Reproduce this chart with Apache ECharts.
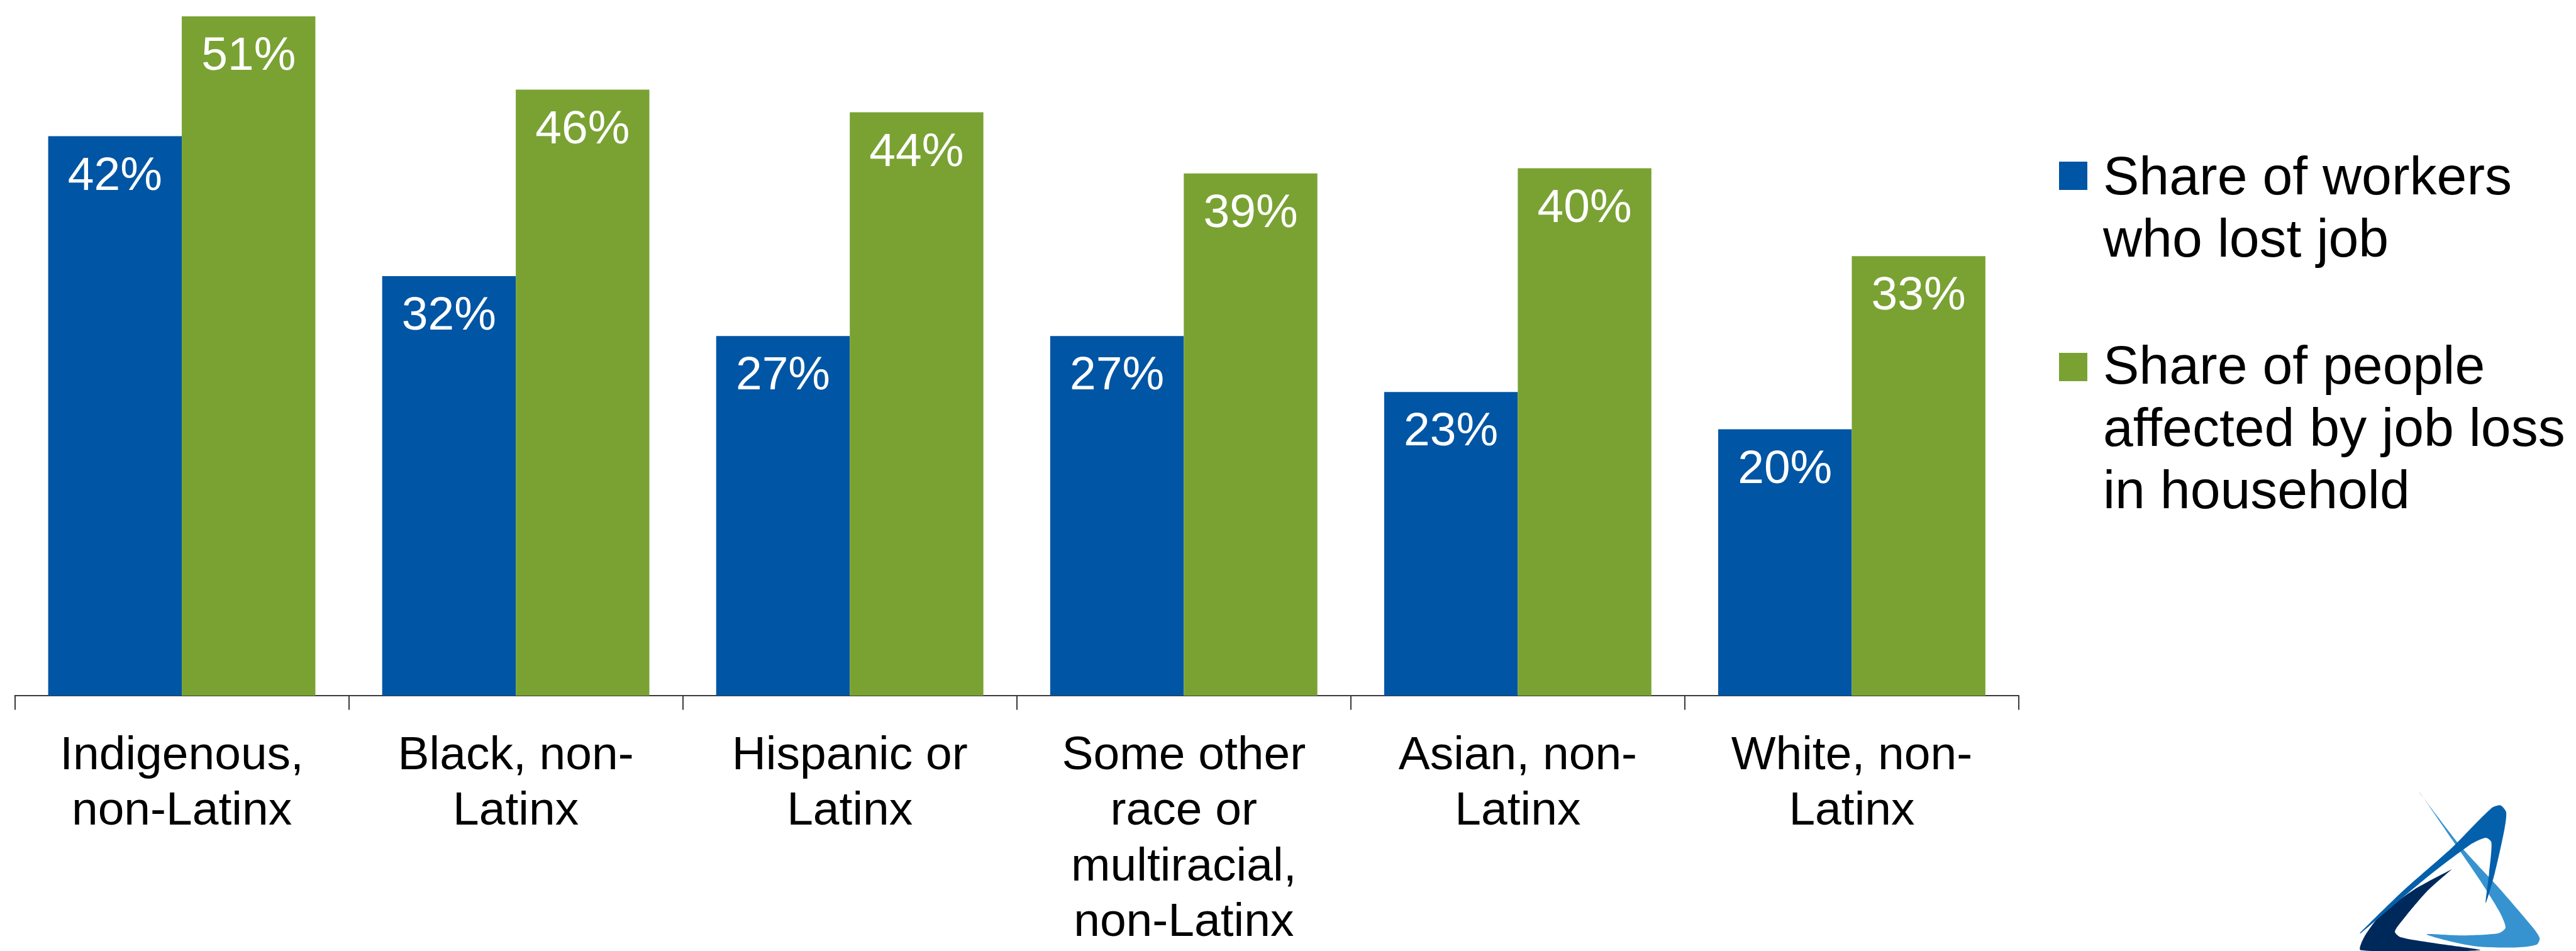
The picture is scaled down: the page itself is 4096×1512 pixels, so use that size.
<!DOCTYPE html>
<html>
<head>
<meta charset="utf-8">
<script src="https://cdn.jsdelivr.net/npm/echarts@6/dist/echarts.min.js"></script>
<style>
html,body{margin:0;padding:0;background:#fff;}
#chart{width:4096px;height:1512px;}
</style>
</head>
<body>
<div id="chart"></div>
<script>
// ---- data ----
var categories = [
  'Indigenous,\nnon-Latinx',
  'Black, non-\nLatinx',
  'Hispanic or\nLatinx',
  'Some other\nrace or\nmultiracial,\nnon-Latinx',
  'Asian, non-\nLatinx',
  'White, non-\nLatinx'
];
var seriesNames = [
  'Share of workers\nwho lost job',
  'Share of people\naffected by job loss\nin household'
];
var workersLostJob = [42, 31.5, 27, 27, 22.8, 20];
var peopleAffected = [51, 45.5, 43.8, 39.2, 39.6, 33];

var S = 0.903;
var FONT = '"Liberation Sans", Arial, sans-serif';
var BLUE = '#0055A4';
var GREEN = '#79A233';

var chart = echarts.init(document.getElementById('chart'), null, {renderer: 'canvas'});

function valueLabel() {
  return {
    show: true,
    position: 'insideTop',
    distance: 27,
    color: '#ffffff',
    fontFamily: FONT,
    fontSize: 75,
    lineHeight: 75,
    formatter: function (p) { return Math.round(p.value) + '%'; }
  };
}

// logo shapes (full-size reference coordinates, scaled by S)
var logoLight = [[4260,1395],[4333,1490],[4400,1563],[4460,1633],[4472,1652],[4467,1663],[4433,1668],[4367,1667],[4317,1658],[4273,1645],[4333,1647],[4400,1643],[4412,1633],[4400,1603],[4367,1550],[4317,1477],[4262,1397]];
var logoMid = [[4155,1643],[4233,1567],[4317,1493],[4387,1423],[4403,1418],[4413,1430],[4410,1460],[4393,1537],[4377,1590],[4383,1537],[4387,1483],[4377,1475],[4350,1487],[4267,1550],[4157,1643]];
var logoDark = [[4318,1530],[4250,1567],[4193,1610],[4163,1650],[4157,1673],[4367,1673],[4283,1660],[4227,1650],[4217,1640],[4233,1617],[4273,1570],[4318,1530]];

var legendColors = [BLUE, GREEN];
var legendTops = [257, 561];
var legendTextTops = [236, 537];
var graphics = [];
for (var i = 0; i < seriesNames.length; i++) {
  graphics.push({
    type: 'rect',
    left: 3274, top: legendTops[i],
    shape: {width: 45, height: 45},
    style: {fill: legendColors[i]}
  });
  graphics.push({
    type: 'text',
    x: 3344, y: legendTextTops[i],
    style: {
      text: seriesNames[i],
      font: '86px ' + FONT,
      lineHeight: 99,
      fill: '#000000',
      verticalAlign: 'top',
      align: 'left'
    }
  });
}
graphics.push({
  type: 'group',
  scaleX: S, scaleY: S,
  children: [
    {type: 'polygon', shape: {points: logoDark, smooth: 0.25}, style: {fill: '#00295B'}},
    {type: 'polygon', shape: {points: logoLight, smooth: 0.25}, style: {fill: '#3793D0'}},
    {type: 'polygon', shape: {points: logoMid, smooth: 0.25}, style: {fill: '#0560AB'}}
  ]
});

var option = {
  animation: false,
  backgroundColor: '#ffffff',
  grid: {left: 23.5, width: 3186.5, top: 4.8, bottom: 388.7, containLabel: false},
  xAxis: {
    type: 'category',
    data: categories,
    axisLine: {show: true, lineStyle: {color: '#3a3a3a', width: 2}},
    axisTick: {show: true, length: 22.5, alignWithLabel: false, lineStyle: {color: '#3a3a3a', width: 2}},
    axisLabel: {
      interval: 0,
      margin: 52,
      color: '#000000',
      fontFamily: FONT,
      fontSize: 75,
      lineHeight: 88.5,
      align: 'center'
    }
  },
  yAxis: {
    type: 'value',
    min: 0, max: 52,
    show: false,
    splitLine: {show: false}
  },
  series: [
    {
      name: seriesNames[0],
      type: 'bar',
      data: workersLostJob,
      barGap: '0%',
      barCategoryGap: '20%',
      itemStyle: {color: BLUE},
      label: valueLabel()
    },
    {
      name: seriesNames[1],
      type: 'bar',
      data: peopleAffected,
      barGap: '0%',
      barCategoryGap: '20%',
      itemStyle: {color: GREEN},
      label: valueLabel()
    }
  ],
  graphic: graphics
};
chart.setOption(option);
</script>
</body>
</html>
